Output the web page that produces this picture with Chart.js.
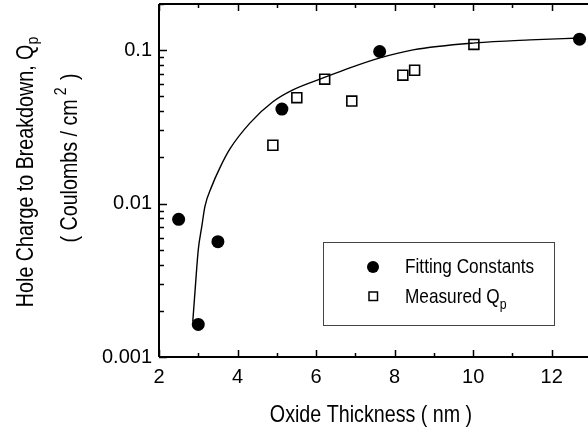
<!DOCTYPE html>
<html>
<head>
<meta charset="utf-8">
<script src="https://cdn.jsdelivr.net/npm/chart.js@4/dist/chart.umd.min.js"></script>
<style>
    html, body { margin: 0; padding: 0; background: #fff; }
</style>
</head>
<body>
<canvas id="chart" width="588" height="434"></canvas>
<script>
// ---------------------------------------------------------------------------
// Data
// ---------------------------------------------------------------------------

// Fitting constants (filled circles)
const fitX = [2.5, 3.0, 3.5, 5.13, 7.62, 12.71];
const fitY = [0.0079, 0.00163, 0.00565, 0.0413, 0.098, 0.118];

// Measured Qp (open squares)
const measX = [4.9, 5.51, 6.22, 6.91, 8.21, 8.51, 10.02];
const measY = [0.024, 0.049, 0.0647, 0.0466, 0.0687, 0.074, 0.109];

// Model curve, traced
const curveX = [2.86, 2.92, 3.0, 3.09, 3.17, 3.34, 3.55, 3.81, 4.32, 4.9, 5.41, 6.18, 6.86, 7.63, 8.47, 10.05, 11.45, 12.72];
const curveY = [0.0017, 0.00274, 0.005, 0.0071, 0.0096, 0.0129, 0.0171, 0.0228, 0.0336, 0.0461, 0.0551, 0.0659, 0.0767, 0.0891, 0.1005, 0.1116, 0.1167, 0.12];

// Axes
const xTicks = [2, 4, 6, 8, 10, 12];
const xMinor = [3, 5, 7, 9, 11];
const yTicks = [0.001, 0.01, 0.1];
const xRange = [2, 12.9];
const yRange = [0.001, 0.2];

const SANS = "'Liberation Sans', Arial, sans-serif";
const NARROW = 0.82;   // horizontal squeeze to mimic Helvetica Narrow titles

// Draw a run of text parts, condensed, starting at x along the baseline
function drawParts(ctx, parts, x, y, align) {
    let total = 0;
    parts.forEach(p => {
        ctx.font = p.size + 'px ' + SANS;
        p.w = ctx.measureText(p.t).width * NARROW + (p.gap || 0);
        total += p.w;
    });
    let cx = align === 'center' ? x - total / 2 : x;
    parts.forEach(p => {
        ctx.font = p.size + 'px ' + SANS;
        ctx.save();
        ctx.translate(cx + (p.gap || 0), y + (p.dy || 0));
        ctx.scale(NARROW, 1);
        ctx.fillText(p.t, 0, 0);
        ctx.restore();
        cx += p.w;
    });
}

// ---------------------------------------------------------------------------
// Frame, inward ticks, titles and legend
// ---------------------------------------------------------------------------

const decorPlugin = {
    id: 'decor',
    afterDraw(chart) {
        const ctx = chart.ctx;
        const a = chart.chartArea;
        const xs = chart.scales.x, ys = chart.scales.y;
        ctx.save();
        ctx.strokeStyle = '#000';
        ctx.fillStyle = '#000';

        // frame: left, bottom, top
        ctx.lineWidth = 2;
        ctx.beginPath();
        ctx.moveTo(a.left, a.top); ctx.lineTo(a.left, a.bottom);
        ctx.moveTo(a.left, a.bottom); ctx.lineTo(chart.width, a.bottom);
        ctx.moveTo(a.left, a.top); ctx.lineTo(chart.width, a.top);
        ctx.stroke();

        // x ticks (bottom up, top down)
        ctx.lineWidth = 1.5;
        ctx.beginPath();
        xTicks.concat(xMinor).forEach(v => {
            const px = Math.round(xs.getPixelForValue(v)) + 0.5;
            const len = xTicks.includes(v) ? 7 : 4;
            ctx.moveTo(px, a.bottom); ctx.lineTo(px, a.bottom - len);
            ctx.moveTo(px, a.top); ctx.lineTo(px, a.top + len);
        });
        // y ticks (left, inward)
        yTicks.forEach(d => {
            for (let m = 1; m <= 9; m++) {
                const v = m * d;
                if (v > yRange[1] * 1.0001) break;
                const py = Math.round(ys.getPixelForValue(v)) + 0.5;
                const len = m === 1 ? 8 : 5;
                ctx.moveTo(a.left, py); ctx.lineTo(a.left + len, py);
            }
        });
        ctx.stroke();

        // axis titles
        ctx.textAlign = 'left';
        ctx.textBaseline = 'alphabetic';
        drawParts(ctx, [{ t: 'Oxide Thickness ( nm )', size: 24 }], 371, 422, 'center');

        ctx.save();
        ctx.translate(33, 172);
        ctx.rotate(-Math.PI / 2);
        drawParts(ctx, [
            { t: 'Hole Charge to Breakdown, Q', size: 24 },
            { t: 'p', size: 17, dy: 5 }
        ], 0, 0, 'center');
        ctx.restore();

        ctx.save();
        ctx.translate(77, 158);
        ctx.rotate(-Math.PI / 2);
        drawParts(ctx, [
            { t: '( Coulombs / cm', size: 24 },
            { t: '2', size: 17, dy: -11, gap: 4 },
            { t: ' )', size: 24, gap: 2 }
        ], 0, 0, 'center');
        ctx.restore();

        // legend box
        ctx.lineWidth = 1;
        ctx.strokeStyle = '#444';
        ctx.strokeRect(323.5, 242.5, 231, 83);
        ctx.strokeStyle = '#000';
        ctx.beginPath();
        ctx.arc(373, 267, 6, 0, Math.PI * 2);
        ctx.fill();
        ctx.lineWidth = 1.5;
        ctx.strokeRect(369, 292, 8.5, 8.5);
        drawParts(ctx, [{ t: 'Fitting Constants', size: 21 }], 405, 273, 'left');
        drawParts(ctx, [
            { t: 'Measured Q', size: 21 },
            { t: 'p', size: 15, dy: 6 }
        ], 405, 303, 'left');
        ctx.restore();
    }
};

// ---------------------------------------------------------------------------
// Chart
// ---------------------------------------------------------------------------

new Chart(document.getElementById('chart'), {
    type: 'scatter',
    data: {
        datasets: [{
            label: 'Model',
            data: curveX.map((x, i) => ({ x, y: curveY[i] })),
            showLine: true,
            borderColor: '#000',
            borderWidth: 1.4,
            pointRadius: 0,
            cubicInterpolationMode: 'monotone',
        }, {
            label: 'Fitting Constants',
            data: fitX.map((x, i) => ({ x, y: fitY[i] })),
            pointStyle: 'circle',
            pointRadius: 6.5,
            backgroundColor: '#000',
            borderColor: '#000',
            borderWidth: 0,
        }, {
            label: 'Measured Qp',
            data: measX.map((x, i) => ({ x, y: measY[i] })),
            pointStyle: 'rect',
            pointRadius: 7,
            backgroundColor: '#fff',
            borderColor: '#000',
            borderWidth: 1.6,
        }]
    },
    options: {
        responsive: false,
        animation: false,
        layout: { autoPadding: false, padding: { top: 4, right: 1, left: 0, bottom: 0 } },
        plugins: {
            legend: { display: false },
            tooltip: { enabled: false },
        },
        scales: {
            x: {
                type: 'linear',
                min: xRange[0], max: xRange[1],
                grid: { display: false, drawTicks: false },
                border: { display: false },
                afterBuildTicks: s => { s.ticks = xTicks.map(v => ({ value: v })); },
                afterFit: s => { s.height = 77; s.paddingLeft = 0; s.paddingRight = 0; },
                ticks: { color: '#000', padding: 8, font: { family: SANS, size: 20 } },
            },
            y: {
                type: 'logarithmic',
                min: yRange[0], max: yRange[1],
                grid: { display: false, drawTicks: false },
                border: { display: false },
                afterBuildTicks: s => { s.ticks = yTicks.map(v => ({ value: v })); },
                afterFit: s => { s.width = 159; s.paddingTop = 0; s.paddingBottom = 0; },
                ticks: {
                    color: '#000', padding: 7, font: { family: SANS, size: 20 },
                    callback: v => String(v),
                },
            }
        }
    },
    plugins: [decorPlugin]
});
</script>
</body>
</html>
